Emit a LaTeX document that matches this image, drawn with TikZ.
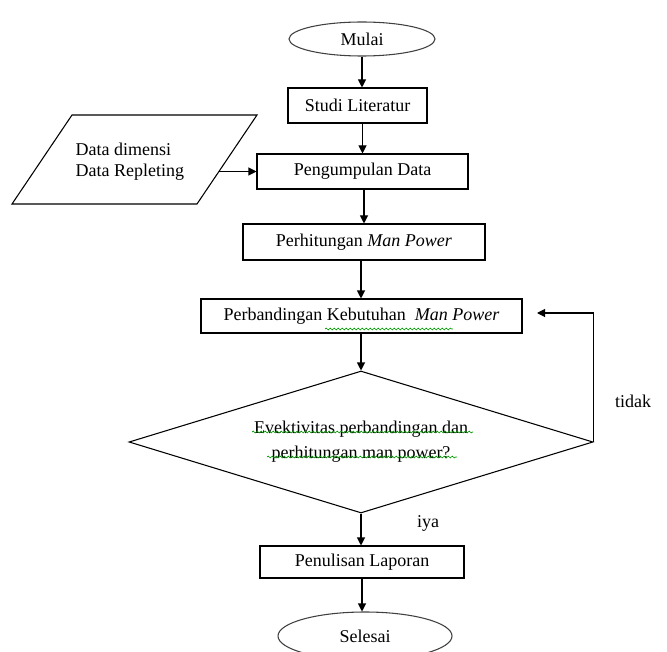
\documentclass[tikz,border=0pt]{standalone}
\usepackage{fontspec}
\setmainfont{Liberation Serif}
\usetikzlibrary{shapes.geometric,arrows.meta,decorations.pathmorphing}
\begin{document}
\begin{tikzpicture}[x=0.75pt,y=-0.75pt,
  font=\fontsize{13.5pt}{16pt}\selectfont,
  line width=0.8pt,
  procbox/.style={draw, rectangle, inner sep=0pt, align=center},
  term/.style={draw, ellipse, inner sep=0pt, draw=black!75},
  arr/.style={-{Triangle[length=6pt,width=6pt]}},
  wavy/.style={draw=green!60!black, line width=0.5pt, decorate,
    decoration={snake, segment length=3pt, amplitude=0.7pt}}
]
\useasboundingbox (0,0) rectangle (667,652);

\node[term, minimum width=109.5pt, minimum height=25.5pt] (mulai) at (362,39) {Mulai};
\node[procbox, minimum width=104.25pt, minimum height=26.25pt] (studi) at (357.5,105.5) {Studi Literatur};
\node[procbox, minimum width=158.25pt, minimum height=26.25pt] (pengu) at (362.5,171.5) {Pengumpulan Data};
\node[procbox, minimum width=181.5pt, minimum height=27pt] (hitung) at (364,242) {Perhitungan \textit{Man Power}};
\node[procbox, minimum width=240.75pt, minimum height=25.5pt] (banding) at (361.5,316) {Perbandingan Kebutuhan~ \textit{Man Power}};
\node[draw, diamond, inner sep=0pt, aspect=3.27, minimum width=348pt, minimum height=106.5pt, align=center] (dec) at (361,442)
  {Evektivitas perbandingan dan\\[3pt]perhitungan man power?};
\node[procbox, minimum width=153pt, minimum height=24pt] (tulis) at (362,562) {Penulisan Laporan};
\node[term, minimum width=130.5pt, minimum height=36pt] (selesai) at (365,636) {Selesai};

% input parallelogram
\draw (72,115) -- (257,115) -- (197,204) -- (12,204) -- cycle;
\node[anchor=west, align=left, inner sep=0pt] (data) at (75,162) {Data dimensi\\Data Repleting};
\coordinate (dataedge) at (219,171.5);

% labels
\node (tidak) at (633,401) {tidak};
\node (iya) at (428,523) {iya};

% connectors
\draw[arr] (mulai.south) -- (mulai.south |- studi.north);
\draw[arr] (studi.south -| pengu.north) -- (pengu.north);
\draw[arr] (dataedge) -- (pengu.west);
\draw[arr] (pengu.south -| hitung.north) -- (hitung.north);
\draw[arr] (hitung.south -| dec.north) -- (dec.north |- banding.north);
\draw[arr] (dec.north |- banding.south) -- (dec.north);
\coordinate (fbend) at (537,313);
\draw[arr] (dec.east) |- (fbend);
\draw[arr] (dec.south) -- (dec.south |- tulis.north);
\draw[arr] (tulis.south) -- (tulis.south |- selesai.north);

% spell-check underlines
\path[wavy] (325,329) -- (453,329);
\path[wavy] (252,432) -- (473,432);
\path[wavy] (267,457) -- (457,457);
\end{tikzpicture}
\end{document}
